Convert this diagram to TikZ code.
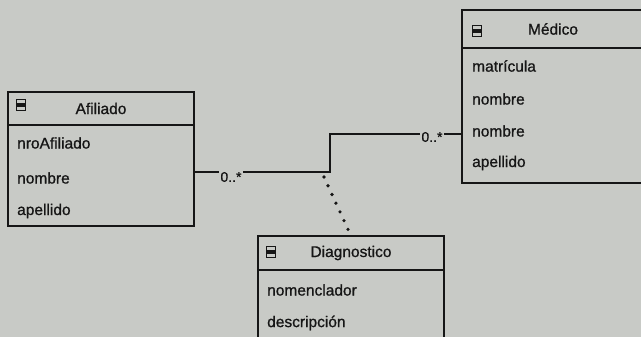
\documentclass[tikz,border=0pt]{standalone}
\usepackage{fontspec}
\setmainfont{Liberation Sans}
\newfontfamily\umlfont{Liberation Sans}[FakeBold=0.9]
\usetikzlibrary{positioning}
\definecolor{paper}{RGB}{200,202,198}
\definecolor{ink}{RGB}{22,22,22}
\tikzset{
	classhead/.style={draw=ink,fill=paper,line width=1.8pt,inner sep=0pt,outer sep=0pt,
		font=\umlfont\fontsize{15.5}{18}\selectfont,text=ink},
	classbody/.style={draw=ink,fill=paper,line width=1.8pt,inner sep=0pt,outer sep=0pt},
	attr/.style={anchor=west,inner sep=0pt,font=\umlfont\fontsize{15.5}{18}\selectfont,text=ink},
	icon/.style={draw=ink,line width=1.2pt,minimum width=9pt,minimum height=11pt,inner sep=0pt,
		path picture={\fill[ink] ([yshift=-1.8pt]path picture bounding box.west) rectangle ([yshift=1.8pt]path picture bounding box.east);}},
	conn/.style={draw=ink,line width=1.8pt},
	mult/.style={fill=paper,inner sep=1.5pt,font=\umlfont\fontsize{14}{16}\selectfont,text=ink},
	assoc/.style={draw=ink,line width=3.6pt,line cap=round,dash pattern=on 0pt off 9.6pt},
}

\begin{document}
\begin{tikzpicture}[x=1pt,y=-1pt]
	\clip (0,0) rectangle (641,337);
	\fill[paper] (0,0) rectangle (641,337);

	% Afiliado...................
	\node[classhead,anchor=north west,minimum width=186pt,minimum height=33pt] (afHead) at (8,92) {Afiliado};
	\node[classbody,below=0pt of afHead,minimum width=186pt,minimum height=101pt] (afBody) {};
	\node[icon] (afIcon) at ([xshift=13pt,yshift=3.5pt]afHead.west) {};
	\foreach \t/\y [count=\i] in {nroAfiliado/143,nombre/178,apellido/211}
		\node[attr] (af\i) at (17,\y) {\t};

	% Medico......................
	\node[classhead,anchor=north west,minimum width=182pt,minimum height=38pt] (mdHead) at (462,10) {Médico};
	\node[classbody,below=0pt of mdHead,minimum width=182pt,minimum height=135pt] (mdBody) {};
	\node[icon] (mdIcon) at ([xshift=15pt,yshift=-2pt]mdHead.west) {};
	\foreach \t/\y [count=\i] in {matrícula/66,nombre/99,nombre/131,apellido/163}
		\node[attr] (md\i) at (472,\y) {\t};

	% Diagnostico.................
	\node[classhead,anchor=north west,minimum width=186pt,minimum height=34pt] (dgHead) at (258,236) {Diagnostico};
	\node[classbody,below=0pt of dgHead,minimum width=186pt,minimum height=80pt] (dgBody) {};
	\node[icon] (dgIcon) at ([xshift=13pt,yshift=1pt]dgHead.west) {};
	\foreach \t/\y [count=\i] in {nomenclador/290,descripción/323}
		\node[attr] (dg\i) at (267,\y) {\t};

	% association...................
	\coordinate (bend) at (330,172);
	\coordinate (mdEnd) at (462,134);
	\draw[conn] (afBody.east |- bend) -- (bend) |- (mdBody.west |- mdEnd);
	\node[mult] (afMult) at (231,177) {0..*};
	\node[mult] (mdMult) at (432,137) {0..*};

	% association class link........
	\coordinate (assocPt) at (324,177);
	\draw[assoc] (assocPt) -- (dgHead.north);

\end{tikzpicture}
\end{document}
